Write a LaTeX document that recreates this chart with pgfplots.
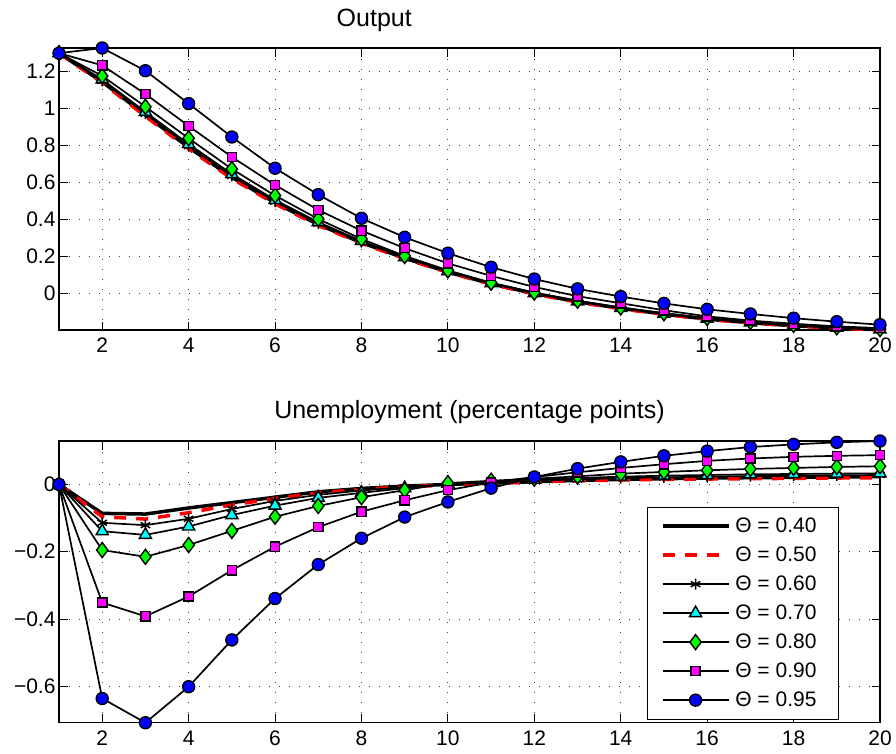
\documentclass[border=0pt]{standalone}
\usepackage{fontspec}
\setmainfont{Liberation Sans}
\usepackage{pgfplots}
\usepackage{pgfplotstable}
\pgfplotsset{compat=1.18}
\definecolor{mblue}{rgb}{0,0,1}
\definecolor{mmag}{rgb}{1,0,1}
\definecolor{mgreen}{rgb}{0,1,0}
\definecolor{mcyan}{rgb}{0,1,1}
\definecolor{mred}{rgb}{1,0,0}
\newcommand{\lent}[1]{\rule{3pt}{0pt}#1\rule{7pt}{0pt}}

\pgfplotstableread{
x a40 a50 a60 a70 a80 a90 a95
1 1.300 1.300 1.300 1.300 1.300 1.300 1.300
2 1.145 1.140 1.150 1.158 1.177 1.234 1.328
3 0.965 0.958 0.972 0.982 1.010 1.079 1.205
4 0.790 0.782 0.797 0.808 0.839 0.906 1.027
5 0.628 0.621 0.635 0.646 0.673 0.738 0.846
6 0.490 0.484 0.496 0.505 0.529 0.586 0.677
7 0.372 0.367 0.377 0.385 0.402 0.451 0.534
8 0.274 0.270 0.278 0.283 0.294 0.339 0.406
9 0.190 0.187 0.193 0.196 0.202 0.244 0.303
10 0.115 0.113 0.117 0.119 0.124 0.162 0.217
11 0.051 0.049 0.053 0.054 0.057 0.094 0.141
12 -0.002 -0.004 0.000 0.001 0.004 0.034 0.077
13 -0.046 -0.048 -0.045 -0.044 -0.040 -0.016 0.024
14 -0.082 -0.084 -0.081 -0.080 -0.077 -0.054 -0.018
15 -0.113 -0.115 -0.112 -0.111 -0.108 -0.092 -0.055
16 -0.140 -0.141 -0.139 -0.138 -0.134 -0.125 -0.087
17 -0.160 -0.161 -0.159 -0.158 -0.155 -0.148 -0.112
18 -0.176 -0.177 -0.175 -0.174 -0.171 -0.165 -0.135
19 -0.188 -0.189 -0.187 -0.186 -0.184 -0.179 -0.154
20 -0.198 -0.199 -0.197 -0.196 -0.194 -0.189 -0.170
}\outputdata

\pgfplotstableread{
x a40 a50 a60 a70 a80 a90 a95
1 0 0 0 0 0 0 0
2 -0.086 -0.096 -0.114 -0.139 -0.195 -0.351 -0.636
3 -0.088 -0.103 -0.121 -0.150 -0.215 -0.392 -0.708
4 -0.070 -0.084 -0.102 -0.125 -0.180 -0.333 -0.601
5 -0.054 -0.061 -0.073 -0.091 -0.138 -0.255 -0.462
6 -0.038 -0.042 -0.049 -0.063 -0.096 -0.185 -0.339
7 -0.022 -0.025 -0.031 -0.040 -0.064 -0.127 -0.238
8 -0.012 -0.015 -0.018 -0.025 -0.038 -0.081 -0.160
9 -0.005 -0.007 -0.008 -0.011 -0.017 -0.047 -0.097
10 0.000 -0.002 0.000 0.002 0.004 -0.017 -0.052
11 0.004 0.003 0.006 0.008 0.011 0.006 -0.011
12 0.008 0.007 0.011 0.014 0.017 0.022 0.022
13 0.012 0.011 0.015 0.019 0.024 0.036 0.047
14 0.015 0.013 0.019 0.023 0.032 0.049 0.067
15 0.017 0.015 0.021 0.026 0.037 0.060 0.085
16 0.019 0.016 0.023 0.028 0.042 0.070 0.099
17 0.020 0.017 0.025 0.030 0.046 0.077 0.111
18 0.021 0.018 0.026 0.031 0.049 0.082 0.119
19 0.022 0.019 0.027 0.032 0.052 0.085 0.125
20 0.023 0.020 0.028 0.033 0.054 0.087 0.129
}\unempdata

\pgfplotsset{
  myaxis/.style={
    scale only axis, width=821pt,
    xmin=1, xmax=20,
    xtick={2,4,...,20}, xticklabels={2,4,6,8,10,12,14,16,18,20},
    tick align=inside, major tick length=8.5pt,
    axis line style={line width=1.1pt},
    every tick/.style={black, line width=1pt},
    grid=major,
    major grid style={black!75, line width=0.9pt, dash pattern=on 1.2pt off 8.8pt},
    ticklabel style={font=\fontsize{21}{25}\selectfont},
    xticklabel style={yshift=-4.5pt},
    title style={font=\fontsize{25}{30}\selectfont, anchor=base},
    clip=false,
  },
  s40/.style={black, line width=3.5pt, no markers},
  s50/.style={mred, line width=3.5pt, dash pattern=on 12pt off 10pt, no markers},
  s60/.style={black, line width=1.7pt, mark=asterisk, mark size=5.5pt, mark options={line width=1.5pt, solid}},
  s70/.style={black, line width=1.7pt, mark=triangle*, mark size=7pt, mark options={fill=mcyan, line width=1.4pt, solid}},
  s80/.style={black, line width=1.7pt, mark=diamond*, mark size=7.5pt, mark options={fill=mgreen, line width=1.4pt, solid}},
  s90/.style={black, line width=1.7pt, mark=square*, mark size=4.6pt, mark options={fill=mmag, line width=1.4pt, solid}},
  s95/.style={black, line width=1.7pt, mark=*, mark size=6pt, mark options={fill=mblue, line width=1.4pt, solid}},
}

\begin{document}
\begin{tikzpicture}
\path[use as bounding box] (0pt,0pt) rectangle (896pt,-753pt);

\begin{axis}[myaxis,
  at={(59pt,-48pt)}, anchor=north west, height=282pt,
  ymin=-0.199, ymax=1.328,
  ytick={0,0.2,0.4,0.6,0.8,1,1.2}, yticklabels={0,0.2,0.4,0.6,0.8,1,1.2},
  title={Output}, title style={at={(0.384,1)}, yshift=16pt},
]
\addplot[s40] table[x=x,y=a40] {\outputdata};
\addplot[s50] table[x=x,y=a50] {\outputdata};
\addplot[s60] table[x=x,y=a60] {\outputdata};
\addplot[s70] table[x=x,y=a70] {\outputdata};
\addplot[s80] table[x=x,y=a80] {\outputdata};
\addplot[s90] table[x=x,y=a90] {\outputdata};
\addplot[s95] table[x=x,y=a95] {\outputdata};
\end{axis}

\begin{axis}[myaxis,
  at={(59pt,-441pt)}, anchor=north west, height=281.7pt,
  ymin=-0.708, ymax=0.129,
  ytick={-0.6,-0.4,-0.2,0}, yticklabels={−0.6,−0.4,−0.2,0},
  title={Unemployment (percentage points)}, title style={at={(0.5,1)}, yshift=17pt},
  legend cell align=left,
  legend image code/.code={\draw[mark repeat=2,mark phase=2] plot coordinates {(0pt,0pt) (33pt,0pt) (66pt,0pt)};},
  legend style={at={(0.950,0.767)}, anchor=north east, draw=black, line width=1pt,
    font=\fontsize{21}{25}\selectfont, fill=white,
    inner xsep=13pt, inner ysep=4.5pt, row sep=0pt,
    nodes={inner xsep=2pt, inner ysep=5.5pt, text height=15pt, text depth=3pt}},
]
\addplot[s40] table[x=x,y=a40] {\unempdata};
\addlegendentry{\lent{Θ = 0.40}}
\addplot[s50] table[x=x,y=a50] {\unempdata};
\addlegendentry{\lent{Θ = 0.50}}
\addplot[s60] table[x=x,y=a60] {\unempdata};
\addlegendentry{\lent{Θ = 0.60}}
\addplot[s70] table[x=x,y=a70] {\unempdata};
\addlegendentry{\lent{Θ = 0.70}}
\addplot[s80] table[x=x,y=a80] {\unempdata};
\addlegendentry{\lent{Θ = 0.80}}
\addplot[s90] table[x=x,y=a90] {\unempdata};
\addlegendentry{\lent{Θ = 0.90}}
\addplot[s95] table[x=x,y=a95] {\unempdata};
\addlegendentry{\lent{Θ = 0.95}}
\end{axis}
\end{tikzpicture}
\end{document}
